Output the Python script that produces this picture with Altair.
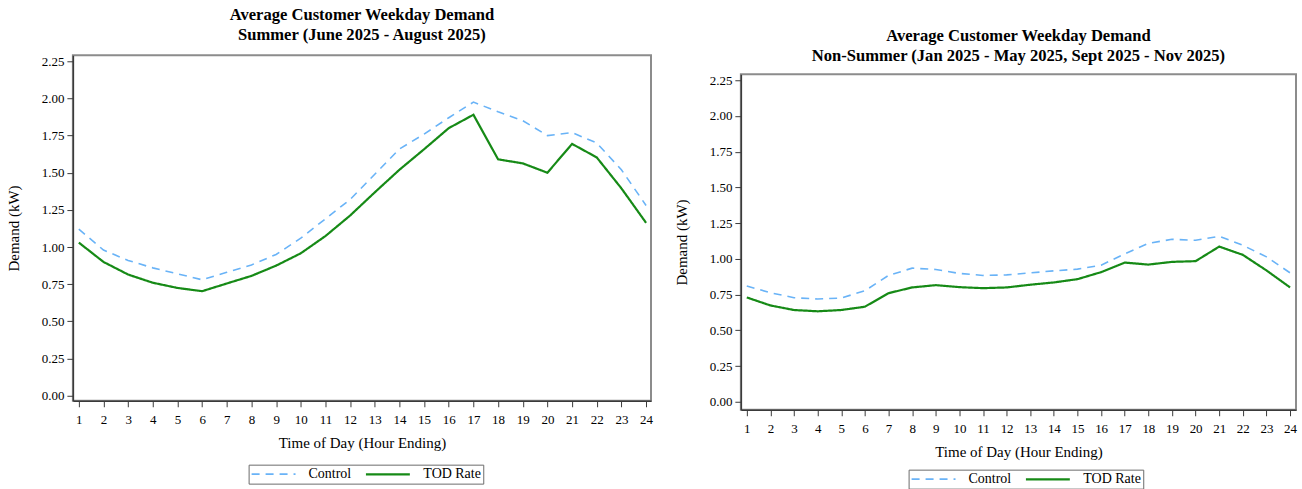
import altair as alt
import pandas as pd

hours = list(range(1, 25))
series_names = ["Control", "TOD Rate"]

summer_control = [1.12, 0.98, 0.91, 0.86, 0.82, 0.78, 0.83, 0.88, 0.95, 1.06, 1.19, 1.32,
                  1.49, 1.66, 1.76, 1.87, 1.975, 1.91, 1.85, 1.75, 1.77, 1.70, 1.52, 1.28]
summer_tod = [1.03, 0.90, 0.815, 0.76, 0.725, 0.703, 0.755, 0.806, 0.875, 0.958, 1.074, 1.212,
              1.368, 1.52, 1.658, 1.80, 1.89, 1.59, 1.563, 1.50, 1.694, 1.603, 1.395, 1.163]

nonsummer_control = [0.81, 0.763, 0.728, 0.719, 0.726, 0.777, 0.884, 0.935, 0.926, 0.898, 0.884, 0.888,
                     0.902, 0.916, 0.928, 0.956, 1.035, 1.109, 1.137, 1.13, 1.158, 1.095, 1.014, 0.902]
nonsummer_tod = [0.73, 0.674, 0.642, 0.633, 0.642, 0.665, 0.76, 0.80, 0.816, 0.802, 0.795, 0.80,
                 0.819, 0.835, 0.858, 0.907, 0.974, 0.96, 0.979, 0.984, 1.086, 1.028, 0.919, 0.80]

y_ticks = [0, 0.25, 0.5, 0.75, 1.0, 1.25, 1.5, 1.75, 2.0, 2.25]

BLUE = "#69B3F7"
GREEN = "#168A16"
FONT = "Liberation Serif"


def long_df(control, tod):
    rows = []
    for h, c, t in zip(hours, control, tod):
        rows.append({"hour": h, "value": c, "series": "Control"})
        rows.append({"hour": h, "value": t, "series": "TOD Rate"})
    return pd.DataFrame(rows)


def panel(df, title_lines, title_offset, width, height, xdom, ydom, legend_x, legend_y):
    leg = dict(orient="none", legendX=legend_x, legendY=legend_y, direction="horizontal")
    return alt.Chart(df, title=alt.TitleParams(
        text=title_lines, font=FONT, fontSize=16.6, fontWeight="bold",
        color="black", lineHeight=20, anchor="middle", offset=title_offset)
    ).mark_line(clip=True).encode(
        x=alt.X("hour:Q", scale=alt.Scale(domain=xdom, nice=False, zero=False),
                axis=alt.Axis(values=hours, title="Time of Day (Hour Ending)", format="d",
                              labelFlush=False)),
        y=alt.Y("value:Q", scale=alt.Scale(domain=ydom, nice=False),
                axis=alt.Axis(values=y_ticks, format=".2f", title="Demand (kW)")),
        color=alt.Color("series:N", title=None,
                        scale=alt.Scale(domain=series_names, range=[BLUE, GREEN]),
                        legend=alt.Legend(**leg)),
        strokeDash=alt.StrokeDash("series:N", title=None,
                                  scale=alt.Scale(domain=series_names, range=[[8, 6], [1, 0]]),
                                  legend=alt.Legend(**leg)),
        strokeWidth=alt.StrokeWidth("series:N", scale=alt.Scale(domain=series_names, range=[1.6, 2.2]),
                                    legend=None),
    ).properties(width=width, height=height)


left = panel(long_df(summer_control, summer_tod),
             ["Average Customer Weekday Demand", "Summer (June 2025 - August 2025)"], 12,
             579, 346, [0.76, 24.2], [-0.034, 2.29], 176, 410)
right = panel(long_df(nonsummer_control, nonsummer_tod),
              ["Average Customer Weekday Demand",
               "Non-Summer (Jan 2025 - May 2025, Sept 2025 - Nov 2025)"], 10,
              556, 336, [0.75, 24.25], [-0.056, 2.292], 168, 396)

spacer = alt.Chart(pd.DataFrame({"v": [0]})).mark_point(opacity=0).encode(
    x=alt.X("v:Q", axis=None), y=alt.Y("v:Q", axis=None)
).properties(width=556, height=1, view=alt.ViewBackground(stroke="transparent"))

indep = dict(color="independent", strokeDash="independent", strokeWidth="independent")
right_col = alt.vconcat(spacer, right, spacing=-34).resolve_scale(**indep)

chart = alt.hconcat(left, right_col, spacing=19).resolve_scale(**indep).properties(
    padding={"left": 5, "top": 5, "right": 4, "bottom": 0}
).configure_view(
    stroke="#8c8c8c", strokeWidth=2
).configure_axis(
    grid=False, domainColor="#3a3a3a", domainWidth=1.5, tickColor="#3a3a3a",
    tickSize=6, labelFont=FONT, labelFontSize=13, labelColor="black",
    titleFont=FONT, titleFontSize=15, titleFontWeight="normal", titleColor="black",
    labelPadding=3
).configure_axisX(
    titlePadding=9, labelPadding=7
).configure_axisY(
    titlePadding=20
).configure_legend(
    strokeColor="#6b6b6b", padding=2, symbolType="M-1,0H6.33", symbolSize=144,
    symbolStrokeWidth=2, labelFont=FONT, labelFontSize=14, labelColor="black",
    columnPadding=10, labelOffset=44, cornerRadius=0, fillColor="white"
)

chart.save("out.html", embed_options={"renderer": "svg", "actions": False})
